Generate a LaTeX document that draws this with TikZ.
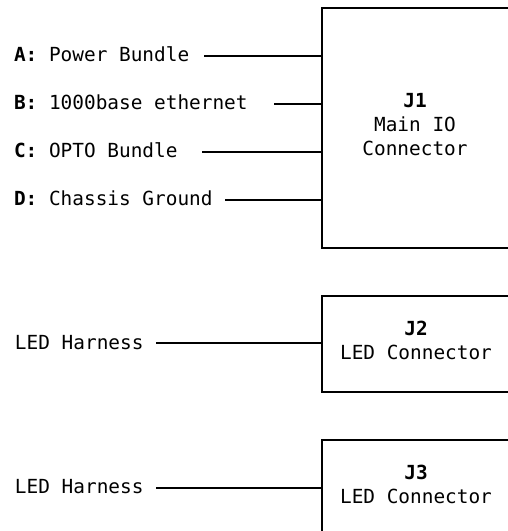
\documentclass[tikz,border=0pt]{standalone}
\usepackage{fontspec}
\setmonofont{DejaVu Sans Mono}
\begin{document}
\begin{tikzpicture}[x=1pt,y=-1pt,
  every node/.style={font=\ttfamily\fontsize{19.4}{24}\selectfont, inner sep=0pt, outer sep=0pt},
  conbox/.style={draw, line width=2.2pt, rectangle, minimum width=198pt},
  lbl/.style={anchor=base west},
  ttl/.style={anchor=base},
  wire/.style={line width=2.2pt}]
\useasboundingbox (0,0) rectangle (508,531);
\clip (0,0) rectangle (508,531);
% J1
\node[conbox, minimum height=240pt] (J1) at (421,128) {};
\node[ttl] (J1a) at (415,107) {\textbf{J1}};
\node[ttl] (J1b) at (415,131.5) {Main IO};
\node[ttl] (J1c) at (415,155) {Connector};
\node[lbl] (la) at (14,61.5) {\textbf{A:} Power Bundle};
\node[lbl] (lb) at (14,109.5) {\textbf{B:} 1000base ethernet};
\node[lbl] (lc) at (14,157.5) {\textbf{C:} OPTO Bundle};
\node[lbl] (ld) at (14,205.5) {\textbf{D:} Chassis Ground};
\coordinate (ea) at (204,56);
\coordinate (eb) at (274,104);
\coordinate (ec) at (202,152);
\coordinate (ed) at (225,200);
\draw[wire] (ea) -- (ea -| J1.west);
\draw[wire] (eb) -- (eb -| J1.west);
\draw[wire] (ec) -- (ec -| J1.west);
\draw[wire] (ed) -- (ed -| J1.west);
% J2
\node[conbox, minimum height=96pt] (J2) at (421,344) {};
\node[ttl] (J2a) at (416,335) {\textbf{J2}};
\node[ttl] (J2b) at (416,359) {LED Connector};
\node[lbl] (l2) at (15,349) {LED Harness};
\coordinate (e2) at (156,343);
\draw[wire] (e2) -- (e2 -| J2.west);
% J3
\node[conbox, minimum height=120pt] (J3) at (421,500) {};
\node[ttl] (J3a) at (416,479) {\textbf{J3}};
\node[ttl] (J3b) at (416,503) {LED Connector};
\node[lbl] (l3) at (15,493) {LED Harness};
\coordinate (e3) at (156,488);
\draw[wire] (e3) -- (e3 -| J3.west);
\end{tikzpicture}
\end{document}
